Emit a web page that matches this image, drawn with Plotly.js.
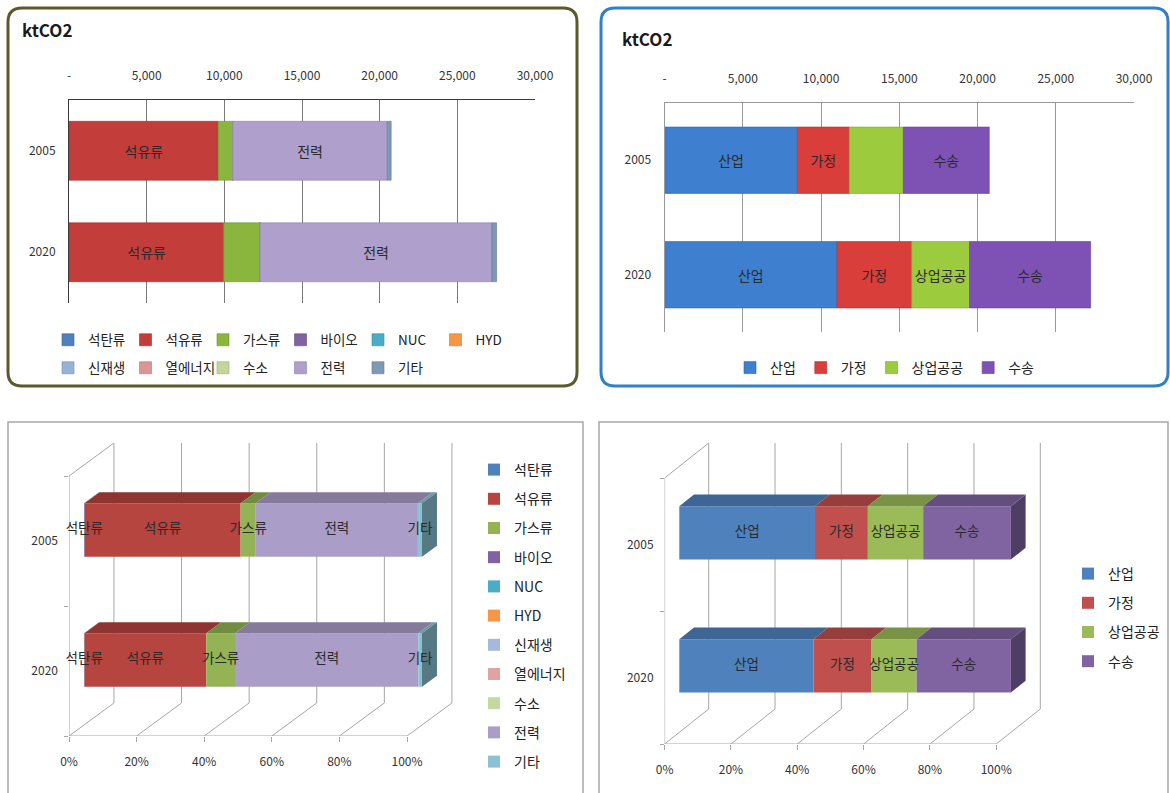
<!DOCTYPE html>
<html><head><meta charset="utf-8">
<script src="https://cdn.plot.ly/plotly-3.0.1.min.js"></script>
<style>html,body{margin:0;padding:0;background:#fff}#chart{width:1170px;height:793px}</style>
</head><body><div id="chart"></div>
<script>
// ---------------- data ----------------
const years = ['2005', '2020'];
const fuelNames = ['석탄류','석유류','가스류','바이오','NUC','HYD','신재생','열에너지','수소','전력','기타'];
const fuel2005 = [40, 9570, 930, 0, 0, 0, 0, 0, 0, 9950, 250];
const fuel2020 = [40, 9920, 2340, 0, 0, 0, 0, 0, 0, 14930, 300];
const sectorNames = ['산업','가정','상업공공','수송'];
const sector2005 = [8490, 3310, 3460, 5490];
const sector2020 = [11020, 4770, 3700, 7740];
const absTicks = [0, 5000, 10000, 15000, 20000, 25000, 30000];
const absTickText = ['-', '5,000', '10,000', '15,000', '20,000', '25,000', '30,000'];
const pctTicks = [0, 20, 40, 60, 80, 100];
const unitLabel = 'ktCO2';

// ---------------- styles ----------------
const fuelColors1 = ['#4F81BD','#C33D3A','#8BB63E','#8064A2','#4BACC6','#F79646','#95B3D7','#D99694','#C3D69B','#AE9FCD','#7E98B8'];
const fuelColors3 = ['#4F81BD','#B6443F','#93B354','#8064A2','#4BACC6','#F79646','#A7B9DA','#E0A3A1','#C6D8A0','#AA9DC7','#8CC3D4'];
const sectorColors2 = ['#3E7FD0','#DA3E3A','#9CCB3E','#7E52B5'];
const sectorColors4 = ['#4F81BD','#C0504D','#9BBB59','#8064A2'];
const KR = "'Noto Sans CJK KR', 'Noto Sans', sans-serif";
const W = 1170, H = 793;
const fx = p => p / W, fy = p => 1 - p / H;

function cumulative(vals){ let c = 0; return vals.map(v => { const b = c; c += v; return b; }); }
function toPct(vals){ const t = vals.reduce((a,b)=>a+b,0); return vals.map(v => v / t * 100); }
function shade(hex, f){
  const n = parseInt(hex.slice(1),16);
  const r = Math.round(((n>>16)&255)*f), g = Math.round(((n>>8)&255)*f), b = Math.round((n&255)*f);
  return `rgb(${r},${g},${b})`;
}

const traces = [];

// -------- panel 1 & 2 : flat stacked bars --------
function buildFlat(names, byYear, colors, xa, ya, legendOf, pxPerUnit){
  const bases = byYear.map(cumulative);
  names.forEach((name, j) => {
    traces.push({
      type:'bar', orientation:'h', xaxis:xa, yaxis:ya,
      y: years, x: byYear.map(v => v[j]), base: bases.map(b => b[j]),
      name: name, legend: legendOf(j),
      marker:{color: colors[j], line:{width:0.6, color: shade(colors[j],0.8)}},
      text: byYear.map(v => (v[j] * pxPerUnit >= name.length * 14) ? name : ''),
      textposition:'inside', insidetextanchor:'middle', textangle:0, constraintext:'none',
      textfont:{family:KR, size:14, color:'#2a2a2a'},
      hovertemplate: name + ': %{x}<extra></extra>'
    });
  });
}
buildFlat(fuelNames, [fuel2005, fuel2020], fuelColors1, 'x', 'y', j => j < 6 ? 'legend' : 'legend2', (535-69)/30000);
buildFlat(sectorNames, [sector2005, sector2020], sectorColors2, 'x2', 'y2', j => 'legend3', (1134-664.6)/30000);

// -------- panel 3 & 4 : pseudo-3D 100% bars --------
function build3D(o){
  const ox = o.DX/3, oy = o.DY/3, ddx = o.DX/3, ddy = o.DY/3, half = o.BH/2;
  const pcts = o.byYear.map(toPct);
  const bases = pcts.map(cumulative);
  const yc = years.map((_, i) => years.length - 1 - i + 0.5 + oy);
  o.names.forEach((name, j) => {
    traces.push({
      type:'bar', orientation:'h', xaxis:o.xa, yaxis:o.ya,
      y: yc, x: pcts.map(p => p[j]), base: bases.map(b => b[j] + ox), width: o.BH,
      name: name, legend: o.legend, legendgroup: o.legend + '_' + j,
      marker:{color:o.colors[j], line:{width:0}},
      hovertemplate: name + ': %{x:.1f}%<extra></extra>'
    });
  });
  o.names.forEach((name, j) => {
    const xs = [], ys = [];
    pcts.forEach((p, i) => {
      if (p[j] <= 0) return;
      const s = bases[i][j] + ox, e = s + p[j], t = yc[i] + half;
      xs.push(s, e, e + ddx, s + ddx, s, null);
      ys.push(t, t, t + ddy, t + ddy, t, null);
    });
    if (xs.length) traces.push({type:'scatter', mode:'lines', fill:'toself', xaxis:o.xa, yaxis:o.ya,
      x: xs, y: ys, fillcolor: shade(o.colors[j], 0.78), line:{width:0}, showlegend:false, hoverinfo:'skip'});
  });
  pcts.forEach((p, i) => {
    let last = -1; p.forEach((v, j) => { if (v > 0) last = j; });
    const e = bases[i][last] + p[last] + ox, b = yc[i] - half, t = yc[i] + half;
    traces.push({type:'scatter', mode:'lines', fill:'toself', xaxis:o.xa, yaxis:o.ya,
      x: [e, e + ddx, e + ddx, e, e], y: [b, b + ddy, t + ddy, t, b],
      fillcolor: shade(o.colors[last], 0.62), line:{width:0}, showlegend:false, hoverinfo:'skip'});
  });
  const lx = [], ly = [], lt = [];
  pcts.forEach((p, i) => p.forEach((v, j) => {
    if (v > 0) { lx.push(bases[i][j] + ox + v/2); ly.push(yc[i]); lt.push(o.names[j]); }
  }));
  traces.push({type:'scatter', mode:'text', xaxis:o.xa, yaxis:o.ya, x: lx, y: ly, text: lt,
    textposition:'middle center', textfont:{family:KR, size:13.5, color:'#2a2a2a'},
    showlegend:false, hoverinfo:'skip', cliponaxis:false});
}
const D3 = {DX: 13.3, DY: 0.254}, D4 = {DX: 13.3, DY: 0.263};
build3D({names: fuelNames, byYear: [fuel2005, fuel2020], colors: fuelColors3, xa:'x3', ya:'y3', legend:'legend4', DX:D3.DX, DY:D3.DY, BH:0.41});
build3D({names: sectorNames, byYear: [sector2005, sector2020], colors: sectorColors4, xa:'x4', ya:'y4', legend:'legend5', DX:D4.DX, DY:D4.DY, BH:0.40});

// -------- decoration: frames, 3D walls --------
function roundRect(x0, y0, x1, y1, r){
  const P = (x, y) => `${fx(x)},${fy(y)}`;
  return `M${P(x0+r,y0)}L${P(x1-r,y0)}Q${P(x1,y0)} ${P(x1,y0+r)}L${P(x1,y1-r)}Q${P(x1,y1)} ${P(x1-r,y1)}` +
         `L${P(x0+r,y1)}Q${P(x0,y1)} ${P(x0,y1-r)}L${P(x0,y0+r)}Q${P(x0,y0)} ${P(x0+r,y0)}Z`;
}
function wallPath(DX, DY){
  const top = years.length;
  let d = '';
  pctTicks.forEach(t => { d += `M${t},0L${t+DX},${DY}L${t+DX},${top+DY}`; });
  d += `M0,0L${pctTicks[pctTicks.length-1]},0`;
  d += `M0,0L0,${top}L${DX},${top+DY}`;
  return d;
}
const shapes = [
  {type:'path', xref:'paper', yref:'paper', path: roundRect(8, 8, 577, 386, 14), line:{color:'#5a5a2c', width:3}},
  {type:'path', xref:'paper', yref:'paper', path: roundRect(601, 8, 1168, 386, 14), line:{color:'#2f80c4', width:3}},
  {type:'rect', xref:'paper', yref:'paper', x0:fx(8), x1:fx(583), y0:fy(422), y1:fy(800), line:{color:'#a8a8a8', width:1.5}},
  {type:'rect', xref:'paper', yref:'paper', x0:fx(599), x1:fx(1168), y0:fy(422), y1:fy(800), line:{color:'#a8a8a8', width:1.5}},
  {type:'path', xref:'x3', yref:'y3', layer:'below', path: wallPath(D3.DX, D3.DY), line:{color:'#a6a6a6', width:1}},
  {type:'path', xref:'x4', yref:'y4', layer:'below', path: wallPath(D4.DX, D4.DY), line:{color:'#a6a6a6', width:1}}
];

const tickFont = {family:KR, size:12, color:'#333'};
const absAxis = (dom, anchor, grid, line) => ({
  domain: dom, anchor: anchor, side:'top', range:[0, 30000], tickvals: absTicks, ticktext: absTickText,
  showgrid:true, gridcolor:grid, gridwidth:1, showline:true, linecolor:line, linewidth:1, zeroline:false,
  ticks:'', ticklabelstandoff:14, tickfont:tickFont, fixedrange:true
});
const catAxis = (dom, anchor, line) => ({
  domain: dom, anchor: anchor, type:'category', categoryorder:'array', categoryarray:['2020','2005'],
  showgrid:false, showline:true, linecolor:line, linewidth:1, zeroline:false, ticks:'', ticklabelstandoff:10,
  tickfont:tickFont, fixedrange:true
});
const pctAxis = (dom, anchor) => ({
  domain: dom, anchor: anchor, range:[0, 118], tickvals: pctTicks, ticktext: pctTicks.map(t => t + '%'),
  showgrid:false, zeroline:false, showline:false, ticks:'outside', ticklen:5, tickcolor:'#a6a6a6',
  ticklabelstandoff:10, tickfont:tickFont, fixedrange:true
});
const yearAxis3D = (dom, anchor) => ({
  domain: dom, anchor: anchor, range:[0, 2.3], tickvals: years.map((_, i) => years.length - 1 - i + 0.5), ticktext: years,
  showgrid:false, zeroline:false, showline:false, ticks:'', ticklabelstandoff:10, tickfont:tickFont, fixedrange:true,
  minor:{tickvals:[0,1,2], ticks:'outside', ticklen:4, tickcolor:'#a6a6a6'}
});
const legFont = {family:KR, size:14, color:'#222'};
const hLeg = (x, y, xanchor, ew, size) => ({orientation:'h', x:x, y:y, xanchor:xanchor, yanchor:'middle',
  font:Object.assign({}, legFont, {size: size}),
  bgcolor:'rgba(0,0,0,0)', traceorder:'normal', entrywidth: ew, entrywidthmode:'pixels', itemwidth:30});
const vLeg = (x, y) => ({orientation:'v', x:x, y:y, xanchor:'left', yanchor:'top', font:legFont,
  bgcolor:'rgba(0,0,0,0)', traceorder:'grouped', tracegroupgap:8, itemwidth:30});

const layout = {
  width: W, height: H, margin:{l:0, r:0, t:0, b:0}, paper_bgcolor:'#fff', plot_bgcolor:'rgba(0,0,0,0)',
  barmode:'overlay', bargap:0.42, showlegend:true, hovermode:'closest',
  font:{family:KR, color:'#222'},
  xaxis:  absAxis([fx(69), fx(535)], 'y', '#7a7a7a', '#3a3a3a'),
  yaxis:  catAxis([fy(303), fy(100)], 'x', '#3a3a3a'),
  xaxis2: absAxis([fx(664.6), fx(1134)], 'y2', '#9a9a9a', '#9a9a9a'),
  yaxis2: catAxis([fy(332), fy(103)], 'x2', '#9a9a9a'),
  xaxis3: pctAxis([fx(69), fx(69 + 118*3.38)], 'y3'),
  yaxis3: yearAxis3D([fy(736), fy(736 - 2.3*130)], 'x3'),
  xaxis4: pctAxis([fx(664.6), fx(664.6 + 118*3.316)], 'y4'),
  yaxis4: yearAxis3D([fy(744), fy(744 - 2.3*133)], 'x4'),
  legend:  hLeg(fx(48), fy(340), 'left', 32.5, 13.5),
  legend2: hLeg(fx(48), fy(368), 'left', 32.5, 13.5),
  legend3: hLeg(fx(885), fy(368), 'center', 0, 14),
  legend4: vLeg(fx(474), fy(454)),
  legend5: vLeg(fx(1068), fy(558)),
  shapes: shapes,
  annotations: [
    {xref:'paper', yref:'paper', x:fx(20), y:fy(30), xanchor:'left', yanchor:'middle', showarrow:false,
     text:'<b>' + unitLabel + '</b>', font:{family:KR, size:17, color:'#1a1a1a'}},
    {xref:'paper', yref:'paper', x:fx(620), y:fy(38), xanchor:'left', yanchor:'middle', showarrow:false,
     text:'<b>' + unitLabel + '</b>', font:{family:KR, size:17, color:'#1a1a1a'}}
  ]
};
Plotly.newPlot('chart', traces, layout, {displayModeBar:false, staticPlot:true});
</script></body></html>
